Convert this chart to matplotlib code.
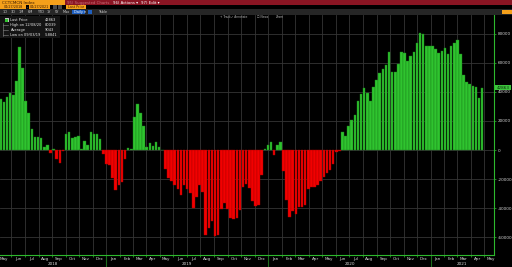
import matplotlib
matplotlib.use("Agg")
import matplotlib.pyplot as plt
import matplotlib.dates as mdates
import matplotlib.transforms as mtransforms
from matplotlib.patches import Rectangle
from matplotlib.ticker import NullFormatter, FixedLocator
import pandas as pd

# weekly net position (contracts), one list per year
first_week = "2018-05-08"
net_2018 = [34800, 33200, 36200, 38900, 37600, 47600, 70500, 56100, 33900, 25200,
            14200, 9200, 9200, 8000, 2300, 3200, -1800, 700, -6200, -8700,
            -500, 11000, 12100, 8500, 9200, 9600, 900, 6400, 3400, 12400,
            10800, 10800, 7600, -2700]
net_2019 = [-9800, -10300, -19200, -27500, -24300, -21800, -6200, 1400, 700, 22400,
            31400, 25400, 16500, 2100, 4600, 3000, 5500, 2300, 0, -12800,
            -19000, -21500, -23800, -26600, -30700, -24000, -26600, -29300, -39600, -32100,
            -24000, -28600, -58400, -53400, -48800, -58841, -58400, -40800, -36600, -40500,
            -46500, -47600, -46900, -41200, -25400, -23100, -26100, -35000, -38500, -37800,
            -17200, 700, 3400]
net_2020 = [5300, -3400, 3400, 5700, -14400, -34400, -45800, -41900, -44200, -38900,
            -38900, -38000, -26800, -25600, -25200, -24300, -21100, -18800, -15600, -13700,
            -9600, -1100, -700, 12100, 9800, 16700, 20600, 24000, 33400, 38500,
            42600, 38900, 33700, 43500, 48100, 53100, 55600, 58400, 67600, 53800,
            53600, 59100, 67100, 66900, 61200, 64800, 67100, 73700, 80039, 79700,
            71700, 71400]
net_2021 = [71400, 69200, 66600, 68000, 70100, 66000, 71200, 73500, 75300, 66000,
            51300, 46500, 45300, 44000, 43000, 35700, 42863]

legend_labels = ["Last Price", "High on 12/08/20", "Average", "Low on 09/03/19"]
legend_values = ["42863", "80039", "9043", "-58841"]
y_ticks = [-60000, -40000, -20000, 0, 20000, 40000, 60000, 80000]
years = [2018, 2019, 2020, 2021]

values = net_2018 + net_2019 + net_2020 + net_2021
dates = pd.date_range(first_week, periods=len(values), freq="7D")

W, H = 512, 267
GREEN = "#2fc42f"
GREEN_EDGE = "#1a7f1a"
RED = "#f20000"
RED_EDGE = "#a80000"
AXIS_GREEN = "#2db82d"
GRID = "#353535"
TXT = "#d8d8d8"
ORANGE = "#f5a01a"
DARKRED = "#8a1523"

fig = plt.figure(figsize=(W / 100, H / 100), dpi=100, facecolor="black")


def rect(x0, y0, x1, y1, color, z=5):
    fig.add_artist(Rectangle((x0 / W, 1 - y1 / H), (x1 - x0) / W, (y1 - y0) / H,
                             transform=fig.transFigure, facecolor=color, lw=0, zorder=z))


def label(x, y, s, color=TXT, size=3, ha="left", z=6):
    fig.text(x / W, 1 - y / H, s, color=color, fontsize=size, ha=ha, va="center", zorder=z)


ax = fig.add_axes([0, 12 / H, 494 / W, 240 / H])
ax.set_facecolor("black")

colors = [GREEN if v >= 0 else RED for v in values]
edges = [GREEN_EDGE if v >= 0 else RED_EDGE for v in values]
ax.bar(dates, values, width=5.8, color=colors, edgecolor=edges, linewidth=0.3, zorder=3)

ax.set_xlim(pd.Timestamp("2018-05-06 05:00"), pd.Timestamp("2021-05-23 14:00"))
ax.set_ylim(-72135, 92745)

# month gridlines, month names mid-month
ax.xaxis.set_major_locator(mdates.MonthLocator())
ax.xaxis.set_major_formatter(NullFormatter())
ax.xaxis.set_minor_locator(mdates.MonthLocator(bymonthday=16))
ax.xaxis.set_minor_formatter(mdates.DateFormatter("%b"))
ax.tick_params(axis="x", which="minor", length=0, labelsize=3, labelcolor=TXT, pad=1.2)
ax.tick_params(axis="x", which="major", length=1.2, color=AXIS_GREEN, width=0.5)

ax.yaxis.tick_right()
ax.yaxis.set_major_locator(FixedLocator(y_ticks))
ax.set_yticklabels([str(t) for t in y_ticks])
ax.tick_params(axis="y", length=1.5, width=0.5, color=AXIS_GREEN, labelsize=3,
               labelcolor=TXT, pad=1)

ax.grid(which="major", color=GRID, lw=0.6, zorder=0)
ax.set_axisbelow(True)

for side in ["left", "top"]:
    ax.spines[side].set_visible(False)
for side in ["right", "bottom"]:
    ax.spines[side].set_color(AXIS_GREEN)
    ax.spines[side].set_linewidth(0.8)

# year labels centred on the visible part of each year, dark green year separators
trans = mtransforms.blended_transform_factory(ax.transData, ax.transAxes)
x_lo, x_hi = ax.get_xlim()
for yr in years:
    start = max(mdates.date2num(pd.Timestamp(f"{yr}-01-01")), x_lo)
    end = min(mdates.date2num(pd.Timestamp(f"{yr + 1}-01-01")), x_hi)
    ax.text((start + end) / 2, -0.036, str(yr), transform=trans, color=TXT,
            fontsize=3, ha="center", va="center", clip_on=False)
    if yr > years[0]:
        jan = mdates.date2num(pd.Timestamp(f"{yr}-01-01"))
        ax.plot([jan, jan], [0, -0.05], transform=trans, color="#1c6b1c",
                lw=0.8, clip_on=False)

# last price tag on the right axis
last_y = 150 - values[-1] / 687
rect(495, last_y - 2.8, 511, last_y + 2.8, "#3cc43c", z=7)
label(503, last_y, legend_values[0], color="#0a2a0a", size=3, ha="center", z=8)

# header bars
rect(0, 0, 65, 5, ORANGE)
rect(65, 0, 512, 5, DARKRED)
rect(0, 5, 512, 9.5, "black")
rect(0, 5.3, 26, 9.2, ORANGE)
rect(29, 5.3, 50, 9.2, ORANGE)
rect(53, 5.3, 57, 9.2, "#4a4a4a")
rect(58, 5.3, 62, 9.2, "#4a4a4a")
rect(66, 5.3, 86, 9.2, ORANGE)
rect(0, 9.5, 512, 14.5, "#262626")
rect(72, 10, 85, 14, "#1f5fbf")
rect(88, 10, 92, 14, "#1f5fbf")
rect(502, 10, 512, 14, ORANGE)

label(2, 2.6, "CCTCMCN Index", color="#3a1a00", size=3)
label(67, 2.6, "95) Suggested Charts", color="#c8707a", size=2.8)
label(113, 2.6, "96) Actions \u25be", color="white", size=2.8)
label(141, 2.6, "97) Edit \u25be", color="white", size=2.8)
label(13, 7.3, "04/27/2018", color="#3a1a00", size=2.4, ha="center")
label(27.5, 7.3, "-", color="#bbbbbb", size=2.4, ha="center")
label(39.5, 7.3, "04/27/2021", color="#3a1a00", size=2.4, ha="center")
label(76, 7.3, "Last Price", color="#3a1a00", size=2.4, ha="center")
for x, s in zip([3, 11, 19, 28, 37, 47, 55, 63],
                ["1D", "3D", "1M", "6M", "YTD", "1Y", "5Y", "Max"]):
    label(x, 12, s, color="#cfcfcf", size=2.5)
label(73.5, 12, "Daily \u25be", color="white", size=2.5)
label(98, 12, "Table", color="#cfcfcf", size=2.5)

# chart toolbar inside the plot
for x, s in zip([220, 231, 257, 276], ["+ Track", "\u2713 Annotate", "\u2610 News", "Zoom"]):
    label(x, 17.5, s, color="#b8b8b8", size=2.1)

# legend box
rect(0, 15.5, 60, 38, "#141414")
rect(4.8, 18.4, 8.6, 22.2, "#bdbdbd", z=6)
rect(5.3, 18.9, 8.1, 21.7, GREEN, z=7)
fig.add_artist(plt.Line2D([3 / W, 3 / W], [1 - 23 / H, 1 - 36 / H],
                          transform=fig.transFigure, color="#8a8a8a", lw=0.4, zorder=6))
for i, (lab, val) in enumerate(zip(legend_labels, legend_values)):
    yy = 20.3 + 5 * i
    if i > 0:
        fig.add_artist(plt.Line2D([3 / W, 7.5 / W], [1 - yy / H, 1 - yy / H],
                                  transform=fig.transFigure, color="#8a8a8a", lw=0.4, zorder=6))
    label(10.5, yy, lab, color="#e6e6e6", size=2.6)
    label(45, yy, val, color="#e6e6e6", size=2.6)

fig.savefig("out.png", dpi=100, facecolor="black")
